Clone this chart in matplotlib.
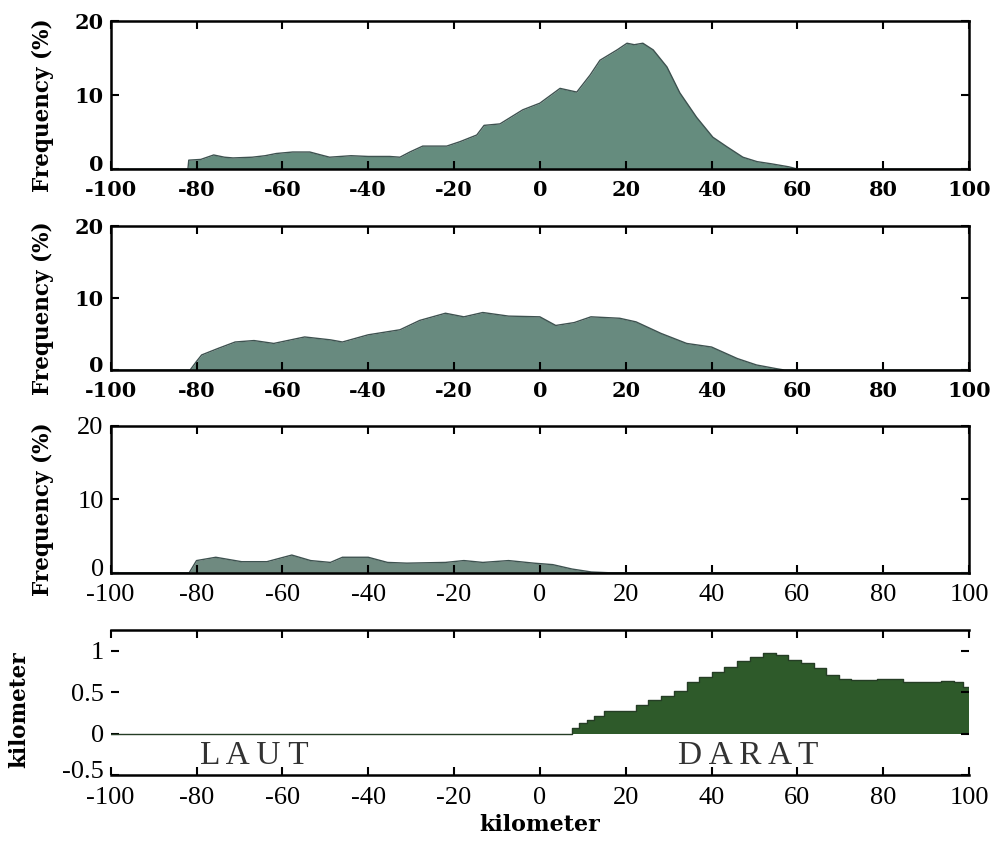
import matplotlib
matplotlib.use("Agg")
import matplotlib.pyplot as plt
from matplotlib.transforms import ScaledTranslation

plt.rcParams['axes.unicode_minus'] = False

# ---- data ----
p1_x = [-100, -82, -81.8, -79, -76, -73.5, -71.5, -67, -64, -61.4, -57.6, -53.6, -51, -49,
        -44, -40, -35, -32.6, -30.3, -27.3, -21.7, -18.6, -14.7, -13, -9.3, -4, 0, 4.7, 8.6,
        11.7, 14, 18, 20.3, 22, 24, 26.4, 29.6, 32.6, 36.5, 40.3, 43.6, 47.3, 50.6, 54, 58, 60, 100]
p1_y = [0, 0, 1.2, 1.3, 1.9, 1.6, 1.5, 1.6, 1.8, 2.1, 2.3, 2.3, 1.9, 1.6,
        1.8, 1.7, 1.7, 1.6, 2.3, 3.1, 3.1, 3.7, 4.6, 5.9, 6.1, 8.0, 8.9, 10.9, 10.4,
        12.7, 14.7, 16.1, 17.0, 16.8, 17.0, 16.1, 13.8, 10.3, 7.0, 4.3, 3.0, 1.6, 1.0, 0.7, 0.3, 0, 0]

p2_x = [-100, -81.5, -80, -78.8, -75, -71, -66.6, -62, -58, -54.8, -48.8, -46, -40, -32.6,
        -28, -22, -17.7, -13.3, -7.3, 0, 3.7, 8, 11.9, 18.6, 22.4, 28.2, 34.2, 40, 46, 50.5,
        55, 57, 100]
p2_y = [0, 0, 1.2, 2.1, 3.0, 3.9, 4.1, 3.7, 4.2, 4.6, 4.2, 3.9, 4.9, 5.6,
        6.9, 7.9, 7.4, 8.0, 7.5, 7.4, 6.2, 6.6, 7.4, 7.2, 6.7, 5.1, 3.7, 3.2, 1.6, 0.7,
        0.2, 0, 0]

p3_x = [-100, -81.7, -80, -75.5, -69.5, -63.6, -57.8, -53.4, -48.8, -46, -40, -35.5, -31,
        -22, -17.7, -13.3, -7.3, -1.4, 3, 7.5, 12, 16, 100]
p3_y = [0, 0, 1.65, 2.1, 1.5, 1.5, 2.4, 1.65, 1.4, 2.1, 2.1, 1.4, 1.3,
        1.4, 1.65, 1.4, 1.65, 1.3, 1.1, 0.5, 0.1, 0, 0]

# terrain profile (km)
t_x = [-100, 7.5, 9.2, 11, 12.6, 14.9, 18, 22.4, 25.3, 28.2, 31.2, 34.2, 37.1, 40, 43, 46,
       49, 52, 55, 57.8, 60.8, 63.8, 66.7, 69.7, 72.6, 78.5, 84.6, 90.4, 93.4, 96.4, 98.6, 100]
t_y = [0, 0.07, 0.13, 0.17, 0.21, 0.27, 0.28, 0.35, 0.41, 0.45, 0.52, 0.63, 0.69, 0.75, 0.81,
       0.88, 0.93, 0.97, 0.95, 0.89, 0.85, 0.79, 0.71, 0.66, 0.65, 0.66, 0.62, 0.62, 0.64,
       0.63, 0.57, 0.53]

xticks = [-100, -80, -60, -40, -20, 0, 20, 40, 60, 80, 100]

fig = plt.figure(figsize=(9.97, 8.41), dpi=100)
lift = ScaledTranslation(0, 4 / 72, fig.dpi_scale_trans)

left, width = 0.111, 0.861
boxes = [(0.799, 0.176), (0.560, 0.171), (0.319, 0.175)]
hist = [(p1_x, p1_y, '#658c7e'), (p2_x, p2_y, '#688a7f'), (p3_x, p3_y, '#6f8a80')]

for i, ((b, h), (xs, ys, col)) in enumerate(zip(boxes, hist)):
    ax = fig.add_axes([left, b, width, h])
    ax.fill_between(xs, 0, ys, color=col, linewidth=0)
    ax.plot(xs, ys, color='#3e5250', lw=1.0)
    ax.set_xlim(-100, 100)
    ax.set_ylim(0, 20)
    ax.set_xticks(xticks)
    ax.set_yticks([0, 10, 20])
    ax.tick_params(direction='in', top=True, right=True, length=6, width=1.5)
    ax.tick_params(axis='x', pad=8)
    ax.tick_params(axis='y', pad=5)
    for s in ax.spines.values():
        s.set_linewidth(1.8)
    if i < 2:
        fp = dict(family='DejaVu Serif', weight='bold', size=15)
    else:
        fp = dict(family='Liberation Serif', size=19)
    for lab in ax.get_xticklabels() + ax.get_yticklabels():
        lab.set_fontfamily(fp['family'])
        lab.set_fontsize(fp['size'])
        lab.set_fontweight(fp.get('weight', 'normal'))
    # lift the "0" label a little so it clears the -100 below
    t0 = ax.yaxis.get_major_ticks()[0].label1
    t0.set_transform(t0.get_transform() + lift)
    ax.set_ylabel('Frequency (%)', family='DejaVu Serif', weight='bold', fontsize=15.5)
    ax.yaxis.set_label_coords(-0.066, 0.43)

# terrain panel
ax4 = fig.add_axes([left, 0.0785, width, 0.172])
ax4.fill_between(t_x, 0, t_y, step='post', color='#2e5a2a', linewidth=0)
ax4.step(t_x, t_y, where='post', color='#253d25', lw=1.0)
ax4.set_xlim(-100, 100)
ax4.set_ylim(-0.5, 1.25)
ax4.set_xticks(xticks)
ax4.set_yticks([-0.5, 0, 0.5, 1])
ax4.set_yticklabels(['-0.5', '0', '0.5', '1'])
ax4.spines['left'].set_visible(False)
ax4.spines['right'].set_visible(False)
for s in ['top', 'bottom']:
    ax4.spines[s].set_linewidth(1.8)
ax4.tick_params(direction='in', top=True, right=True, length=6, width=1.5)
ax4.tick_params(axis='x', pad=9)
ax4.tick_params(axis='y', pad=5)
for lab in ax4.get_xticklabels() + ax4.get_yticklabels():
    lab.set_fontfamily('Liberation Serif')
    lab.set_fontsize(19)
t0 = ax4.yaxis.get_major_ticks()[0].label1
t0.set_transform(t0.get_transform() + lift)
ax4.text(-66.5, -0.27, 'L A U T', family='Liberation Serif', fontsize=24,
         ha='center', va='center', color='#333333')
ax4.text(48.5, -0.27, 'D A R A T', family='Liberation Serif', fontsize=24,
         ha='center', va='center', color='#333333')
ax4.set_ylabel('kilometer', family='DejaVu Serif', weight='bold', fontsize=15.5)
ax4.yaxis.set_label_coords(-0.094, 0.45)
ax4.set_xlabel('kilometer', family='DejaVu Serif', weight='bold', fontsize=16, labelpad=3)

plt.savefig("out.png", dpi=100)
